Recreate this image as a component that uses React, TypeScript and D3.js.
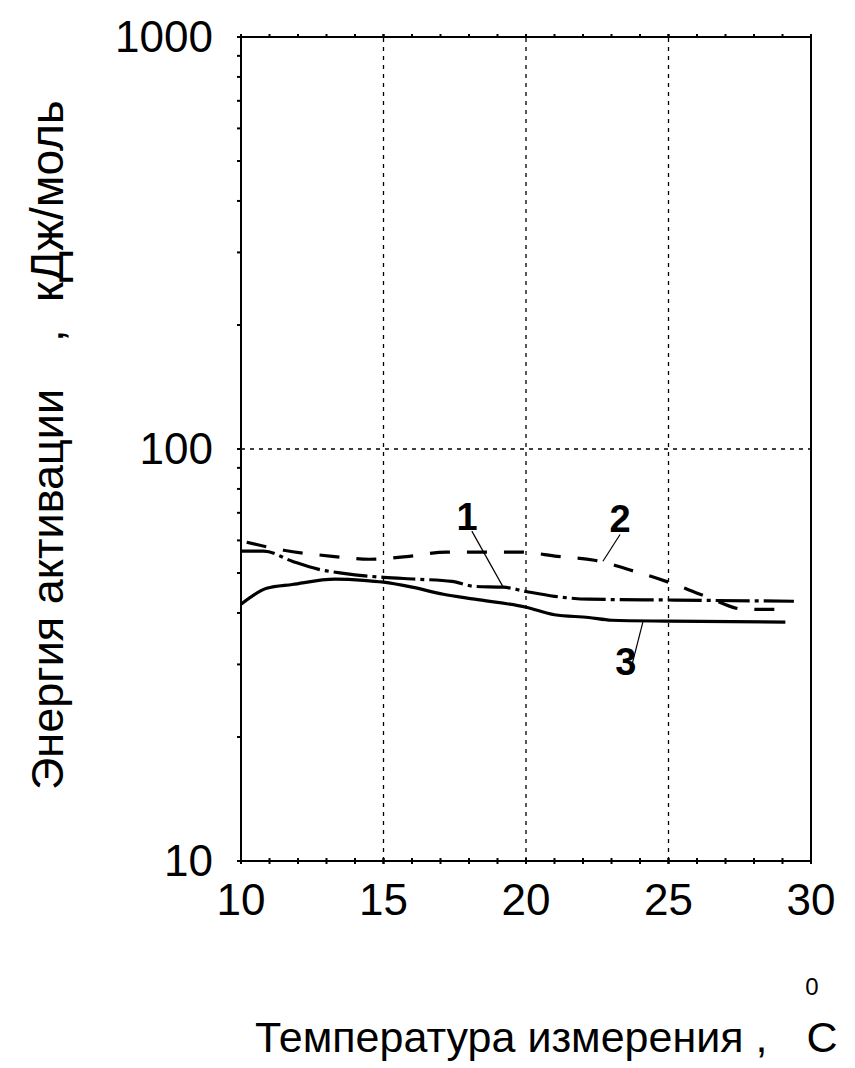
import React from "react";
import { scaleLinear, scaleLog, line, curveMonotoneX, range } from "d3";

// temperature, °C
const xTicks = [10, 15, 20, 25, 30];
const xGrid = [15, 20, 25];
const yTicks = [10, 100, 1000];
const yGrid = [100];

// curve 1 (dash-dot)
const temp1 = [10.0, 10.8, 11.8, 12.7, 13.6, 15.0, 16.2, 17.4, 18.2, 19.2, 20.0, 21.0, 22.2, 25.0, 29.4];
const energy1 = [56.5, 56.5, 53.4, 51.1, 49.9, 48.8, 48.3, 47.7, 46.4, 46.2, 45.1, 43.9, 43.2, 43.0, 42.7];

// curve 2 (dashed)
const temp2 = [10.2, 11.5, 13.2, 14.5, 15.9, 17.2, 18.5, 19.8, 21.1, 22.4, 23.8, 25.0, 26.3, 27.7, 28.8];
const energy2 = [59.4, 56.8, 54.9, 54.0, 54.9, 56.2, 56.2, 56.2, 54.9, 53.7, 50.5, 47.5, 43.9, 40.8, 40.8];

// curve 3 (solid)
const temp3 = [10.0, 10.9, 11.8, 13.3, 14.3, 15.0, 16.0, 17.1, 18.2, 20.0, 21.0, 22.2, 23.0, 25.0, 29.1];
const energy3 = [42.0, 45.9, 46.9, 48.3, 48.0, 47.5, 46.2, 44.4, 43.2, 41.3, 39.6, 39.0, 38.4, 38.2, 38.0];

// numbered labels with leader lines: [label, labelT, labelE, fromT, fromE, toT, toE]
const notes: [string, number, number, number, number, number, number][] = [
  ["1", 17.93, 63.6, 18.1, 63.2, 19.2, 46.2],
  ["2", 23.3, 62.8, 23.3, 62.0, 22.7, 53.4],
  ["3", 23.5, 28.2, 24.1, 38.0, 23.7, 29.6],
];

const font = "'Liberation Sans', Arial, sans-serif";

export default function App() {
  const width = 855;
  const height = 1068;
  const margin = { left: 241, right: 44, top: 37, bottom: 207 };

  const x = scaleLinear().domain([10, 30]).range([margin.left, width - margin.right]);
  const y = scaleLog().domain([10, 1000]).range([height - margin.bottom, margin.top]);

  const x0 = x.range()[0];
  const x1 = x.range()[1];
  const y0 = y.range()[0];
  const y1 = y.range()[1];

  const mk = (ts: number[], es: number[]) =>
    line<number>()
      .x((_, i) => x(ts[i]))
      .y((e) => y(e))
      .curve(curveMonotoneX)(es) || "";

  const minorX = range(11, 30);
  const minorY: number[] = [];
  [10, 100].forEach((d) => range(2, 10).forEach((k) => minorY.push(d * k)));

  return (
    <svg
      width={width}
      height={height}
      style={{ position: "absolute", left: 0, top: 0, background: "white" }}
      fontFamily={font}
    >
      {/* grid */}
      {xGrid.map((t) => (
        <line key={"gx" + t} x1={x(t)} x2={x(t)} y1={y0} y2={y1}
          stroke="black" strokeWidth={1.3} strokeDasharray="4,5" />
      ))}
      {yGrid.map((v) => (
        <line key={"gy" + v} x1={x0} x2={x1} y1={y(v)} y2={y(v)}
          stroke="black" strokeWidth={1.3} strokeDasharray="4,5" />
      ))}

      {/* frame */}
      <rect x={x0} y={y1} width={x1 - x0} height={y0 - y1} fill="none" stroke="black" strokeWidth={2} />

      {/* x ticks on top & bottom */}
      {minorX.concat(xTicks).map((t) => (
        <g key={"tx" + t}>
          <line x1={x(t)} x2={x(t)} y1={y0 - 3} y2={y0 + 3} stroke="black" strokeWidth={2} />
          <line x1={x(t)} x2={x(t)} y1={y1 - 3} y2={y1 + 1} stroke="black" strokeWidth={2} />
        </g>
      ))}
      {/* y ticks */}
      {minorY.concat(yTicks).map((v) => (
        <line key={"ty" + v} x1={x0 - 4} x2={x0} y1={y(v)} y2={y(v)} stroke="black" strokeWidth={2} />
      ))}

      {/* tick labels */}
      {xTicks.map((t) => (
        <text key={"lx" + t} x={x(t)} y={y0 + 54} fontSize={44} textAnchor="middle">{t}</text>
      ))}
      {yTicks.map((v) => (
        <text key={"ly" + v} x={x0 - 28} y={y(v) + 15} fontSize={44} textAnchor="end">{v}</text>
      ))}

      {/* curves */}
      <path d={mk(temp3, energy3)} fill="none" stroke="black" strokeWidth={3.2} />
      <path d={mk(temp1, energy1)} fill="none" stroke="black" strokeWidth={3.2} strokeDasharray="34,5,4,5" />
      <path d={mk(temp2, energy2)} fill="none" stroke="black" strokeWidth={3.2} strokeDasharray="20,17" />

      {/* numbered labels */}
      {notes.map(([lab, lt, le, ft, fe, tt, te]) => (
        <g key={"n" + lab}>
          <line x1={x(ft)} y1={y(fe)} x2={x(tt)} y2={y(te)} stroke="black" strokeWidth={1.2} />
          <text x={x(lt)} y={y(le)} fontSize={38} fontWeight="bold" textAnchor="middle">{lab}</text>
        </g>
      ))}

      {/* axis titles */}
      <text x={255} y={1052} fontSize={43}>Температура измерения ,</text>
      <text x={822} y={1052} fontSize={43} textAnchor="middle">С</text>
      <text x={812} y={995} fontSize={24} textAnchor="middle">0</text>

      <g transform="translate(63,0) rotate(-90)">
        <text x={-790} y={0} fontSize={45}>Энергия активации</text>
        <text x={-342} y={0} fontSize={45}>,</text>
        <text x={-302} y={0} fontSize={46}>кДж/моль</text>
      </g>
    </svg>
  );
}
